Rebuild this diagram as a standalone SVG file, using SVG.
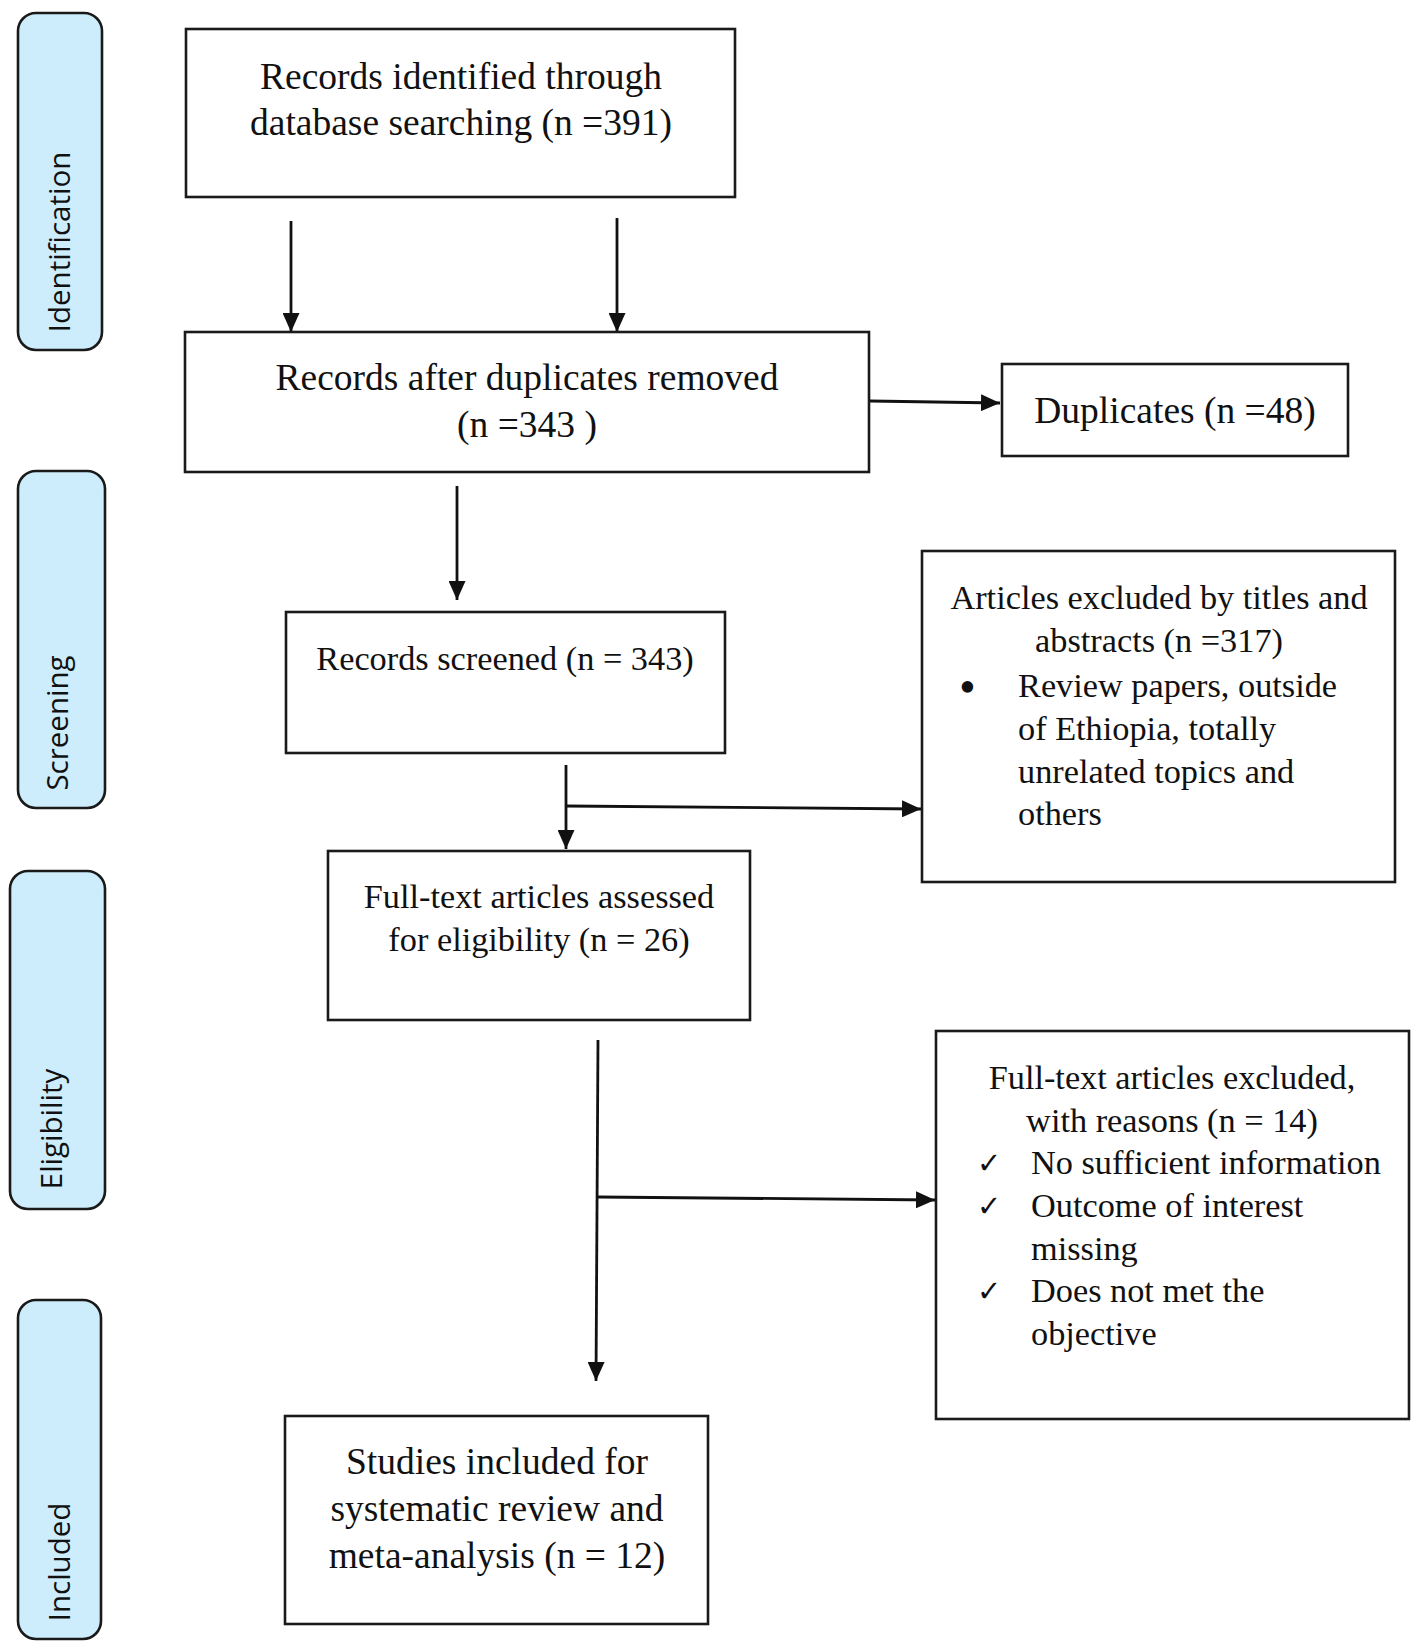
<svg xmlns="http://www.w3.org/2000/svg" width="1418" height="1648" viewBox="0 0 1418 1648">
<style>
.box{fill:#ffffff;stroke:#1a1a1a;stroke-width:2.6}
.pill{fill:#cdedfc;stroke:#1a1a1a;stroke-width:2.6}
.lbl{font-family:"Open Sans","DejaVu Sans",sans-serif;font-size:29.5px;fill:#111}
.t38{font-family:"Liberation Serif","Times New Roman",serif;font-size:37.5px;fill:#111}
.t34{font-family:"Liberation Serif","Times New Roman",serif;font-size:34.3px;fill:#111}
.bul{font-family:"Liberation Serif","Times New Roman",serif;font-size:48px;fill:#111}
.chk{font-family:"DejaVu Sans",sans-serif;font-size:29px;fill:#111}
.c{text-anchor:middle}
.conn{stroke:#111;stroke-width:2.8;fill:none}
</style>
<defs>
<marker id="ah" viewBox="0 0 19 17" refX="19" refY="8.5" markerWidth="19" markerHeight="17" markerUnits="userSpaceOnUse" orient="auto">
<path d="M0,0 L19,8.5 L0,17 z" fill="#111"/>
</marker>
</defs>
<rect width="1418" height="1648" fill="#ffffff"/>

<g id="stage-identification">
<rect class="pill" x="18" y="13" width="84" height="337" rx="18"/>
<text class="lbl c" transform="translate(70,242) rotate(-90)">Identification</text>
</g>
<g id="stage-screening">
<rect class="pill" x="18" y="471" width="87" height="337" rx="18"/>
<text class="lbl c" transform="translate(68,723) rotate(-90)">Screening</text>
</g>
<g id="stage-eligibility">
<rect class="pill" x="10" y="871" width="95" height="338" rx="18"/>
<text class="lbl c" transform="translate(62,1129) rotate(-90)">Eligibility</text>
</g>
<g id="stage-included">
<rect class="pill" x="18" y="1300" width="83" height="339" rx="18"/>
<text class="lbl c" transform="translate(70,1562) rotate(-90)">Included</text>
</g>

<g id="connectors">
<line class="conn" x1="291" y1="221" x2="291" y2="332" marker-end="url(#ah)"/>
<line class="conn" x1="617" y1="218" x2="617" y2="332" marker-end="url(#ah)"/>
<line class="conn" x1="870" y1="401" x2="1000" y2="403" marker-end="url(#ah)"/>
<line class="conn" x1="457" y1="486" x2="457" y2="600" marker-end="url(#ah)"/>
<line class="conn" x1="566" y1="765" x2="566" y2="849" marker-end="url(#ah)"/>
<line class="conn" x1="566" y1="806" x2="921" y2="809" marker-end="url(#ah)"/>
<line class="conn" x1="598" y1="1040" x2="596" y2="1381" marker-end="url(#ah)"/>
<line class="conn" x1="598" y1="1197" x2="935" y2="1200" marker-end="url(#ah)"/>
</g>

<g id="n-identified">
<rect class="box" x="186" y="29" width="549" height="168"/>
<text class="t38 c" x="461" y="89">Records identified through</text>
<text class="t38 c" x="461" y="135">database searching (n =391)</text>
</g>
<g id="n-dedup">
<rect class="box" x="185" y="332" width="684" height="140"/>
<text class="t38 c" x="527" y="390">Records after duplicates removed</text>
<text class="t38 c" x="527" y="437">(n =343 )</text>
</g>
<g id="n-duplicates">
<rect class="box" x="1002" y="364" width="346" height="92"/>
<text class="t38 c" x="1175" y="423">Duplicates (n =48)</text>
</g>
<g id="n-screened">
<rect class="box" x="286" y="612" width="439" height="141"/>
<text class="t34 c" x="505" y="670">Records screened (n = 343)</text>
</g>
<g id="n-excluded-ta">
<rect class="box" x="922" y="551" width="473" height="331"/>
<text class="t34 c" x="1159" y="609">Articles excluded by titles and</text>
<text class="t34 c" x="1159" y="652">abstracts (n =317)</text>
<text class="bul" x="959" y="703">•</text>
<text class="t34" x="1018" y="697">Review papers, outside</text>
<text class="t34" x="1018" y="740">of Ethiopia, totally</text>
<text class="t34" x="1018" y="783">unrelated topics and</text>
<text class="t34" x="1018" y="825">others</text>
</g>
<g id="n-fulltext">
<rect class="box" x="328" y="851" width="422" height="169"/>
<text class="t34 c" x="539" y="908">Full-text articles assessed</text>
<text class="t34 c" x="539" y="951">for eligibility (n = 26)</text>
</g>
<g id="n-excluded-ft">
<rect class="box" x="936" y="1031" width="473" height="388"/>
<text class="t34 c" x="1172" y="1089">Full-text articles excluded,</text>
<text class="t34 c" x="1172" y="1132">with reasons (n = 14)</text>
<text class="chk" x="977" y="1173">✓</text>
<text class="t34" x="1031" y="1174">No sufficient information</text>
<text class="chk" x="977" y="1216">✓</text>
<text class="t34" x="1031" y="1217">Outcome of interest</text>
<text class="t34" x="1031" y="1260">missing</text>
<text class="chk" x="977" y="1301">✓</text>
<text class="t34" x="1031" y="1302">Does not met the</text>
<text class="t34" x="1031" y="1345">objective</text>
</g>
<g id="n-included">
<rect class="box" x="285" y="1416" width="423" height="208"/>
<text class="t38 c" x="497" y="1474">Studies included for</text>
<text class="t38 c" x="497" y="1521">systematic review and</text>
<text class="t38 c" x="497" y="1568">meta-analysis (n = 12)</text>
</g>
</svg>
